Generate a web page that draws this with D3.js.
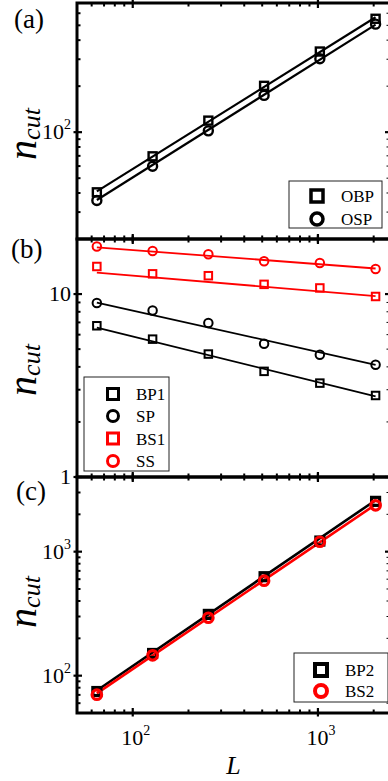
<!DOCTYPE html>
<html>
<head>
<meta charset="utf-8">
<script src="https://cdn.jsdelivr.net/npm/d3@7"></script>
<style>
  body { margin: 0; background: #fff; }
  svg { display: block; }
  text { font-family: "Liberation Serif", "Times New Roman", serif; fill: #000; }
</style>
</head>
<body>
<svg id="chart" width="388" height="781"></svg>
<script>
// system sizes L
const sizes = [64, 128, 256, 512, 1024, 2048];

// panel (a)
const obp = [40.4, 69.5, 119, 201, 337, 552];
const osp = [35.7, 59.8, 102, 174, 302, 509];
const fitObp = [41, 565];
const fitOsp = [36, 505];

// panel (b)
const bp1 = [6.71, 5.67, 4.70, 3.78, 3.26, 2.79];
const sp = [8.93, 8.14, 6.95, 5.35, 4.66, 4.11];
const bs1 = [14.15, 12.9, 12.6, 11.3, 10.8, 9.7];
const ss = [18.2, 17.2, 16.5, 15.1, 14.8, 13.7];
const fitBp1 = [6.56, 2.76];
const fitSp = [8.99, 4.1];
const fitBs1 = [13.1, 9.75];
const fitSs = [18.0, 13.8];

// panel (c)
const bp2 = [74.5, 151, 312, 628, 1218, 2545];
const bs2 = [70.3, 146, 293, 583, 1202, 2363];
const fitBp2 = [76, 2600];
const fitBs2 = [72, 2400];

// ticks
const xMajor = [100, 1000];
const xMinor = [60, 70, 80, 90, 200, 300, 400, 500, 600, 700, 800, 900, 2000];
const xTickLabels = ['2', '3'];

const svg = d3.select('#chart');
const x = d3.scaleLog().domain([50, 2450]).range([77, 390]);
const left = 77, right = 390;

const panels = [
  {
    tag: '(a)', tagX: 14, tagY: 28, top: 3, bottom: 239, domain: [20, 700],
    yMajor: [100], yMinor: [30, 40, 50, 60, 70, 80, 90, 200, 300, 400, 500, 600],
    yLabels: [{ v: 100, base: '10', exp: '2' }], labelY: 134,
    lineW: 2.2,
    series: [
      { name: 'OBP', vals: obp, fit: fitObp, color: '#000', shape: 'square', size: 8, sw: 2.4 },
      { name: 'OSP', vals: osp, fit: fitOsp, color: '#000', shape: 'circle', size: 9, sw: 2.4 }
    ],
    legend: { x1: 289, y1: 181, x2: 382, y2: 228, mx: 317, tx: 341, rows: [196, 219], msize: 12, msw: 3.5 }
  },
  {
    tag: '(b)', tagX: 11, tagY: 258, top: 239, bottom: 477, domain: [1, 20],
    yMajor: [1, 10], yMinor: [2, 3, 4, 5, 6, 7, 8, 9],
    yLabels: [{ v: 10, base: '10' }, { v: 1, base: '1' }], labelY: 370,
    lineW: 1.8,
    series: [
      { name: 'BP1', vals: bp1, fit: fitBp1, color: '#000', shape: 'square', size: 7.5, sw: 2 },
      { name: 'SP', vals: sp, fit: fitSp, color: '#000', shape: 'circle', size: 8.5, sw: 2 },
      { name: 'BS1', vals: bs1, fit: fitBs1, color: '#ff0000', shape: 'square', size: 7.5, sw: 2 },
      { name: 'SS', vals: ss, fit: fitSs, color: '#ff0000', shape: 'circle', size: 8.5, sw: 2 }
    ],
    legend: { x1: 84, y1: 377, x2: 169, y2: 471, mx: 113, tx: 136, rows: [394, 416, 438.5, 461], msize: 11, msw: 3 }
  },
  {
    tag: '(c)', tagX: 16, tagY: 500, top: 477, bottom: 713, domain: [50, 4000],
    yMajor: [100, 1000], yMinor: [60, 70, 80, 90, 200, 300, 400, 500, 600, 700, 800, 900, 2000, 3000],
    yLabels: [{ v: 1000, base: '10', exp: '3' }, { v: 100, base: '10', exp: '2' }], labelY: 602,
    lineW: 2.6,
    series: [
      { name: 'BP2', vals: bp2, fit: fitBp2, color: '#000', shape: 'square', size: 8, sw: 3.2 },
      { name: 'BS2', vals: bs2, fit: fitBs2, color: '#ff0000', shape: 'circle', size: 9.5, sw: 3.2 }
    ],
    legend: { x1: 294, y1: 653, x2: 388, y2: 702, mx: 321, tx: 345, rows: [670, 691], msize: 12, msw: 4 }
  }
];

function marker(g, shape, cx, cy, size, color, sw) {
  if (shape === 'square') {
    g.append('rect')
      .attr('x', cx - size / 2).attr('y', cy - size / 2)
      .attr('width', size).attr('height', size)
      .attr('fill', 'none').attr('stroke', color).attr('stroke-width', sw);
  } else {
    g.append('circle')
      .attr('cx', cx).attr('cy', cy).attr('r', size / 2)
      .attr('fill', 'none').attr('stroke', color).attr('stroke-width', sw);
  }
}

panels.forEach(p => {
  const y = d3.scaleLog().domain(p.domain).range([p.bottom, p.top]);
  const g = svg.append('g');

  // fitted lines
  p.series.forEach(s => {
    g.append('line')
      .attr('x1', x(sizes[0])).attr('y1', y(s.fit[0]))
      .attr('x2', x(sizes[sizes.length - 1])).attr('y2', y(s.fit[1]))
      .attr('stroke', s.color).attr('stroke-width', p.lineW);
  });

  // markers
  p.series.forEach(s => {
    s.vals.forEach((v, i) => marker(g, s.shape, x(sizes[i]), y(v), s.size, s.color, s.sw));
  });

  // ticks on all four sides, pointing inward
  const ticks = g.append('g').attr('stroke', '#000');
  xMinor.forEach(t => {
    ticks.append('line').attr('x1', x(t)).attr('x2', x(t)).attr('y1', p.bottom).attr('y2', p.bottom - 3.5).attr('stroke-width', 2);
    ticks.append('line').attr('x1', x(t)).attr('x2', x(t)).attr('y1', p.top).attr('y2', p.top + 3.5).attr('stroke-width', 2);
  });
  xMajor.forEach(t => {
    ticks.append('line').attr('x1', x(t)).attr('x2', x(t)).attr('y1', p.bottom + 3.5).attr('y2', p.bottom - 5).attr('stroke-width', 2.2);
    ticks.append('line').attr('x1', x(t)).attr('x2', x(t)).attr('y1', p.top - 3.5).attr('y2', p.top + 5).attr('stroke-width', 2.2);
  });
  p.yMinor.forEach(t => {
    ticks.append('line').attr('y1', y(t)).attr('y2', y(t)).attr('x1', left).attr('x2', left + 3.5).attr('stroke-width', 2);
    ticks.append('line').attr('y1', y(t)).attr('y2', y(t)).attr('x1', right).attr('x2', right - 3.5).attr('stroke-width', 1);
  });
  p.yMajor.forEach(t => {
    ticks.append('line').attr('y1', y(t)).attr('y2', y(t)).attr('x1', left - 3.5).attr('x2', left + 5).attr('stroke-width', 2.2);
    ticks.append('line').attr('y1', y(t)).attr('y2', y(t)).attr('x1', right + 3).attr('x2', right - 5).attr('stroke-width', 2.2);
  });

  // frame
  g.append('rect')
    .attr('x', left).attr('y', p.top)
    .attr('width', right - left).attr('height', p.bottom - p.top)
    .attr('fill', 'none').attr('stroke', '#000').attr('stroke-width', 3);

  // y tick labels
  p.yLabels.forEach(l => {
    const t = g.append('text')
      .attr('x', 71).attr('y', y(l.v) + 7)
      .attr('text-anchor', 'end').attr('font-size', 22);
    t.append('tspan').text(l.base);
    if (l.exp) t.append('tspan').attr('dy', -10).attr('font-size', 14).text(l.exp);
  });

  // y axis title
  const yt = g.append('text')
    .attr('transform', `translate(36,${p.labelY}) rotate(-90)`)
    .attr('text-anchor', 'middle').attr('font-style', 'italic');
  yt.append('tspan').attr('font-size', 40).text('n');
  yt.append('tspan').attr('font-size', 26).attr('dy', 4).text('cut');

  // panel tag
  g.append('text').attr('x', p.tagX).attr('y', p.tagY).attr('font-size', 27).text(p.tag);

  // legend
  const lg = p.legend;
  g.append('rect')
    .attr('x', lg.x1).attr('y', lg.y1)
    .attr('width', lg.x2 - lg.x1).attr('height', lg.y2 - lg.y1)
    .attr('fill', '#fff').attr('stroke', '#222').attr('stroke-width', 1);
  p.series.forEach((s, i) => {
    marker(g, s.shape, lg.mx, lg.rows[i], lg.msize, s.color, lg.msw);
    g.append('text').attr('x', lg.tx).attr('y', lg.rows[i] + 6)
      .attr('font-size', 17).text(s.name);
  });
});

// x tick labels (bottom panel only)
xMajor.forEach((t, i) => {
  const tx = svg.append('text')
    .attr('x', x(t) + 3).attr('y', 745)
    .attr('text-anchor', 'middle').attr('font-size', 22);
  tx.append('tspan').text('10');
  tx.append('tspan').attr('dy', -10).attr('font-size', 14).text(xTickLabels[i]);
});

// x axis title
svg.append('text')
  .attr('x', (left + right) / 2).attr('y', 774)
  .attr('text-anchor', 'middle').attr('font-size', 26).attr('font-style', 'italic')
  .text('L');
</script>
</body>
</html>
